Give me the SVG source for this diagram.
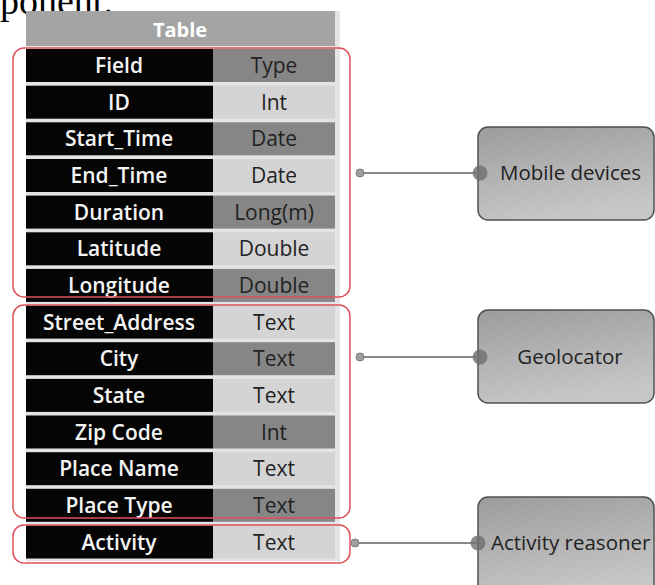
<svg xmlns="http://www.w3.org/2000/svg" width="655" height="585" viewBox="0 0 655 585">
<defs>
<linearGradient id="ng" x1="0" y1="0" x2="0.3" y2="1">
<stop offset="0" stop-color="#9c9c9c"/>
<stop offset="1" stop-color="#c6c6c6"/>
</linearGradient>
<style>
.f{fill:#050505}
.d{fill:#868686}
.l{fill:#d4d4d4}
.ft{font-family:"Open Sans","Noto Sans",sans-serif;font-size:21px;font-weight:600;fill:#f4f4f4;text-anchor:middle}
.tt{font-family:"Open Sans","Noto Sans",sans-serif;font-size:21px;fill:#222;text-anchor:middle}
.grp{fill:none;stroke:#e0505a;stroke-width:1.5}
.node rect{fill:url(#ng);stroke:#505050;stroke-width:1.5}
.node text{font-family:"Open Sans","Noto Sans",sans-serif;font-size:20.5px;fill:#222}
.cn line{stroke:#8a8a8a;stroke-width:2}
.sp{fill:#a0a0a0;stroke:#7a7a7a;stroke-width:1}
.bp{fill:#6e6e6e;fill-opacity:0.8}
</style>
</defs>
<text x="0" y="14" font-family="Liberation Serif,serif" font-size="38" fill="#000">ponent.</text>
<g id="table">
<rect x="26" y="11" width="314" height="550" fill="#e4e4e4"/>
<rect x="26" y="11" width="309" height="35" fill="#a4a4a4"/>
<text x="180" y="37" font-family="Open Sans,Noto Sans,sans-serif" font-size="20" font-weight="700" fill="#fff" text-anchor="middle">Table</text>
<g id="r0"><rect class="f" x="26" y="49" width="187" height="33"/><rect class="d" x="213" y="49" width="122" height="33"/><text class="ft" x="119" y="73">Field</text><text class="tt" x="274" y="73">Type</text></g>
<g id="r1"><rect class="f" x="26" y="85.7" width="187" height="33"/><rect class="l" x="213" y="85.7" width="122" height="33"/><text class="ft" x="119" y="109.7">ID</text><text class="tt" x="274" y="109.7">Int</text></g>
<g id="r2"><rect class="f" x="26" y="122.3" width="187" height="33"/><rect class="d" x="213" y="122.3" width="122" height="33"/><text class="ft" x="119" y="146.3">Start_Time</text><text class="tt" x="274" y="146.3">Date</text></g>
<g id="r3"><rect class="f" x="26" y="159" width="187" height="33"/><rect class="l" x="213" y="159" width="122" height="33"/><text class="ft" x="119" y="183">End_Time</text><text class="tt" x="274" y="183">Date</text></g>
<g id="r4"><rect class="f" x="26" y="195.6" width="187" height="33"/><rect class="d" x="213" y="195.6" width="122" height="33"/><text class="ft" x="119" y="219.6">Duration</text><text class="tt" x="274" y="219.6">Long(m)</text></g>
<g id="r5"><rect class="f" x="26" y="232.3" width="187" height="33"/><rect class="l" x="213" y="232.3" width="122" height="33"/><text class="ft" x="119" y="256.3">Latitude</text><text class="tt" x="274" y="256.3">Double</text></g>
<g id="r6"><rect class="f" x="26" y="268.9" width="187" height="33"/><rect class="d" x="213" y="268.9" width="122" height="33"/><text class="ft" x="119" y="292.9">Longitude</text><text class="tt" x="274" y="292.9">Double</text></g>
<g id="r7"><rect class="f" x="26" y="305.6" width="187" height="33"/><rect class="l" x="213" y="305.6" width="122" height="33"/><text class="ft" x="119" y="329.6">Street_Address</text><text class="tt" x="274" y="329.6">Text</text></g>
<g id="r8"><rect class="f" x="26" y="342.2" width="187" height="33"/><rect class="d" x="213" y="342.2" width="122" height="33"/><text class="ft" x="119" y="366.2">City</text><text class="tt" x="274" y="366.2">Text</text></g>
<g id="r9"><rect class="f" x="26" y="378.9" width="187" height="33"/><rect class="l" x="213" y="378.9" width="122" height="33"/><text class="ft" x="119" y="402.9">State</text><text class="tt" x="274" y="402.9">Text</text></g>
<g id="r10"><rect class="f" x="26" y="415.5" width="187" height="33"/><rect class="d" x="213" y="415.5" width="122" height="33"/><text class="ft" x="119" y="439.5">Zip Code</text><text class="tt" x="274" y="439.5">Int</text></g>
<g id="r11"><rect class="f" x="26" y="452.2" width="187" height="33"/><rect class="l" x="213" y="452.2" width="122" height="33"/><text class="ft" x="119" y="476.2">Place Name</text><text class="tt" x="274" y="476.2">Text</text></g>
<g id="r12"><rect class="f" x="26" y="488.8" width="187" height="33"/><rect class="d" x="213" y="488.8" width="122" height="33"/><text class="ft" x="119" y="512.8">Place  Type</text><text class="tt" x="274" y="512.8">Text</text></g>
<g id="r13"><rect class="f" x="26" y="525.5" width="187" height="33"/><rect class="l" x="213" y="525.5" width="122" height="33"/><text class="ft" x="119" y="549.5">Activity</text><text class="tt" x="274" y="549.5">Text</text></g>
</g>
<g id="groups">
<rect class="grp" x="13" y="48" width="337" height="249" rx="11"/>
<rect class="grp" x="13" y="305" width="337" height="213" rx="11"/>
<rect class="grp" x="13" y="525" width="337" height="38" rx="11"/>
</g>
<g id="n1" class="node"><rect x="478" y="127" width="176" height="93" rx="10"/><text x="500" y="180">Mobile devices</text></g>
<g id="n2" class="node"><rect x="478" y="310" width="176" height="93" rx="10"/><text x="570" y="364" text-anchor="middle">Geolocator</text></g>
<g id="n3" class="node"><rect x="478" y="497" width="176" height="100" rx="10"/><text x="491" y="550">Activity reasoner</text></g>
<g id="connectors" class="cn">
<line x1="360" y1="173" x2="480" y2="173"/><circle class="sp" cx="360" cy="173" r="4"/><circle class="bp" cx="480" cy="173" r="7.5"/>
<line x1="360" y1="357" x2="480" y2="357"/><circle class="sp" cx="360" cy="357" r="4"/><circle class="bp" cx="480" cy="357" r="7.5"/>
<line x1="355" y1="543" x2="478" y2="543"/><circle class="sp" cx="355" cy="543" r="4"/><circle class="bp" cx="478" cy="543" r="7.5"/>
</g>
</svg>
